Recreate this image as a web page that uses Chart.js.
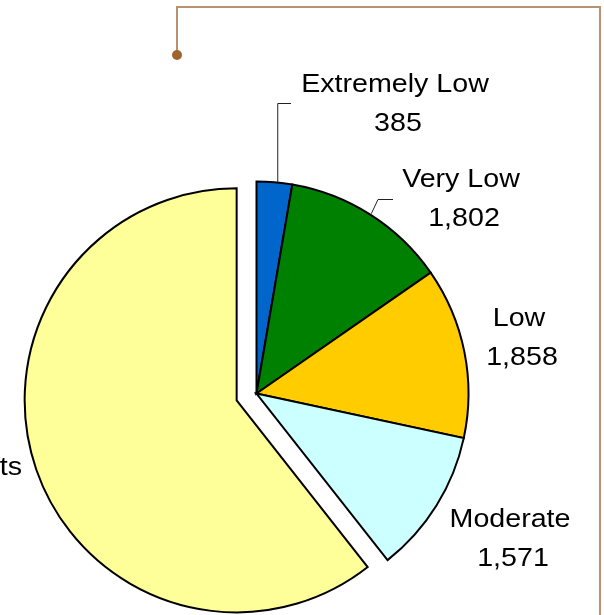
<!DOCTYPE html>
<html><head><meta charset="utf-8">
<script src="https://cdn.jsdelivr.net/npm/chart.js@4"></script>
<style>html,body{margin:0;padding:0;background:#fff;overflow:hidden}#wrap{position:relative;width:604px;height:615px}</style>
</head><body><div id="wrap"><canvas id="c" width="604" height="615"></canvas></div>
<script>
// ---- data ----
const categories = ['Extremely Low', 'Very Low', 'Low', 'Moderate', 'Above Moderate Units'];
const units = [385, 1802, 1858, 1571, 8640];
const valueLabels = ['385', '1,802', '1,858', '1,571', '8,640'];
const sliceColors = ['#0066CC', '#008000', '#FFCC00', '#CCFFFF', '#FFFF99'];
const explode = [0, 0, 0, 0, 21];

// ---- layout (label anchors: centre x, first baseline y) ----
const labelPos = [[395, 92], [461, 187], [519, 326], [510, 527], [null, 475]];
const FONT_PX = 26.5, SCALE_X = 1.08, LINE_H = 39;

// exploded-slice shift without enlarging the radius (pure translation along mid-angle)
Chart.defaults.elements.arc.shift = 0;
const origArcDraw = Chart.ArcElement.prototype.draw;
Chart.ArcElement.prototype.draw = function (ctx, area) {
  const s = (this.options && this.options.shift) || 0;
  if (!s) return origArcDraw.call(this, ctx, area);
  const mid = (this.startAngle + this.endAngle) / 2;
  ctx.save();
  ctx.translate(Math.cos(mid) * s, Math.sin(mid) * s);
  origArcDraw.call(this, ctx, area);
  ctx.restore();
};

function drawText(ctx, txt, cx, by) {
  ctx.save();
  ctx.translate(cx, by);
  ctx.scale(SCALE_X, 1);
  ctx.textAlign = 'center';
  ctx.textBaseline = 'alphabetic';
  ctx.fillText(txt, 0, 0);
  ctx.restore();
}

const framePlugin = {
  id: 'frame',
  beforeDraw(chart) {
    const ctx = chart.ctx;
    ctx.save();
    ctx.strokeStyle = '#B8926E';
    ctx.lineWidth = 2;
    ctx.beginPath();
    ctx.moveTo(177, 55);
    ctx.lineTo(177, 7);
    ctx.lineTo(600, 7);
    ctx.lineTo(600, 620);
    ctx.stroke();
    ctx.fillStyle = '#A0632E';
    ctx.beginPath();
    ctx.arc(177, 55, 5, 0, Math.PI * 2);
    ctx.fill();
    ctx.restore();
  }
};

function arcPoint(el, frac, rExtra) {
  const p = el.getProps(['x', 'y', 'startAngle', 'endAngle', 'outerRadius'], true);
  const a = p.startAngle + (p.endAngle - p.startAngle) * frac;
  const r = p.outerRadius + (rExtra || 0);
  return [p.x + Math.cos(a) * r, p.y + Math.sin(a) * r];
}

const labelPlugin = {
  id: 'labels',
  afterDraw(chart) {
    const ctx = chart.ctx;
    const meta = chart.getDatasetMeta(0);
    ctx.save();
    ctx.fillStyle = '#000';
    ctx.font = FONT_PX + 'px "Liberation Sans", Arial, sans-serif';
    ctx.strokeStyle = '#222';
    ctx.lineWidth = 1;
    // Extremely Low leader
    let p = arcPoint(meta.data[0], 0.55, 0);
    ctx.beginPath();
    ctx.moveTo(p[0] + 1.5, p[1]);
    ctx.lineTo(p[0] + 1.5, 103.5);
    ctx.lineTo(291, 103.5);
    ctx.stroke();
    // Very Low leader
    p = arcPoint(meta.data[1], 0.5, 0);
    ctx.beginPath();
    ctx.moveTo(p[0] + 1, p[1] - 1);
    ctx.lineTo(378, 199.5);
    ctx.lineTo(393, 199.5);
    ctx.stroke();

    for (let i = 0; i < categories.length; i++) {
      let [cx, by] = labelPos[i];
      if (cx === null) {
        const w = ctx.measureText(categories[i]).width * SCALE_X;
        cx = 22 - w / 2;
      }
      drawText(ctx, categories[i], cx, by);
      drawText(ctx, valueLabels[i], cx + 3, by + LINE_H);
    }
    ctx.restore();
  }
};

new Chart(document.getElementById('c'), {
  type: 'pie',
  data: {
    labels: categories,
    datasets: [{
      data: units,
      backgroundColor: sliceColors,
      borderColor: '#000',
      borderWidth: 2,
      borderJoinStyle: 'miter',
      shift: explode,
      clip: false
    }]
  },
  options: {
    responsive: false,
    animation: false,
    radius: 212,
    layout: { padding: { left: 0, right: 91, top: 172, bottom: 0 } },
    plugins: { legend: { display: false }, tooltip: { enabled: false } }
  },
  plugins: [framePlugin, labelPlugin]
});
</script>
</body></html>
